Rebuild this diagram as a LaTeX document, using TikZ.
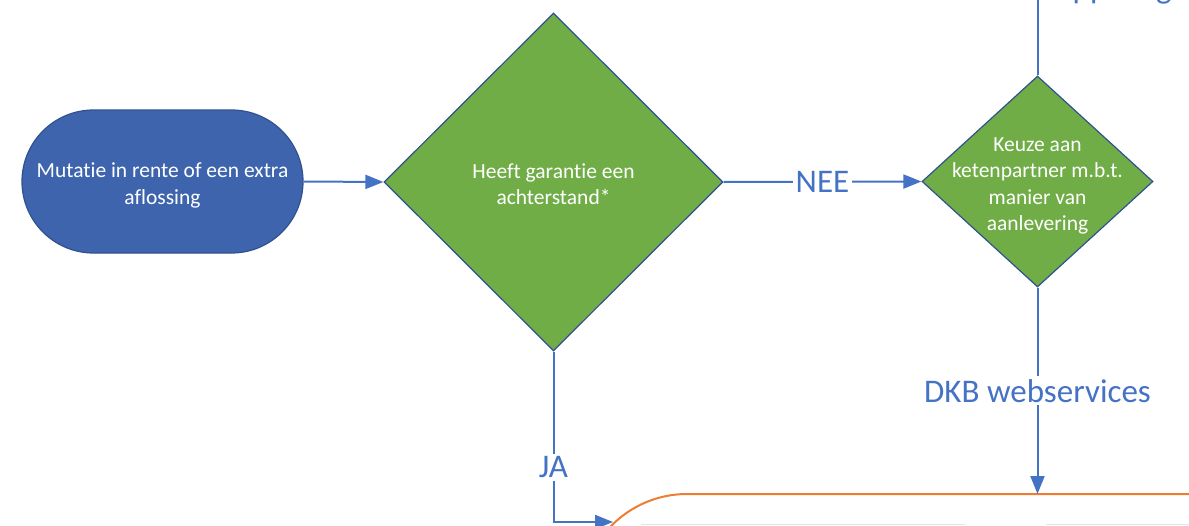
\documentclass[tikz,border=0pt]{standalone}
\usepackage{fontspec}
\setmainfont{Carlito}[Ligatures={NoCommon,NoRequired,NoContextual}]
\usetikzlibrary{shapes.geometric,arrows.meta}
\definecolor{linkblue}{HTML}{4472C4}
\definecolor{startfill}{HTML}{3E64AD}
\definecolor{edgeblue}{HTML}{2F528F}
\definecolor{dgreen}{HTML}{70AD47}
\definecolor{orangeline}{HTML}{ED7D31}
\definecolor{faintgray}{HTML}{E4E4E4}
\begin{document}
\begin{tikzpicture}[x=1pt,y=-1pt,
  boxtext/.style={text=white, font=\fontsize{21.5}{26.3}\selectfont, align=center, inner sep=0pt},
  startnode/.style={draw=edgeblue, line width=1.2pt, fill=startfill, rectangle,
     rounded corners=71.5pt, minimum width=281pt, minimum height=143pt, inner sep=0pt},
  decision/.style={draw=edgeblue, line width=1.2pt, fill=dgreen, diamond, inner sep=0pt},
  connline/.style={draw=linkblue, line width=2pt},
  connarrow/.style={connline, -{Triangle[length=18pt,width=14pt]}},
  lbl/.style={fill=white, text=linkblue, font=\fontsize{33}{38}\selectfont, inner sep=3pt},
]
\useasboundingbox (0,0) rectangle (1189,525);
\begin{scope}
\clip (0,0) rectangle (1189,525);

% nodes
\node[startnode] (start) at (162.5,181.5) {};
\node[boxtext] (starttext) at (162.5,185.5) {Mutatie in rente of een extra\\aflossing};
\node[decision, minimum width=339pt, minimum height=338pt] (d1) at (553.5,182) {};
\node[boxtext] (d1text) at (553.5,184.5) {Heeft garantie een\\achterstand*};
\node[decision, minimum width=231pt, minimum height=211pt] (d2) at (1037.5,181.5) {};
\node[boxtext] (d2text) at (1037.5,186) {Keuze aan\\ketenpartner m.b.t.\\manier van\\aanlevering};
\node[text=linkblue, font=\fontsize{33}{38}\selectfont, anchor=base east, inner sep=0pt] (toplbl) at (1172,-2) {Koppeling};

% orange container
\draw[orangeline, line width=2pt, rounded corners=106pt] (581,720) -- (581,494) -- (1500,494);
\draw[faintgray, line width=1pt] (641,524.5) -- (965,524.5);
\draw[faintgray, line width=1pt] (1046,524.5) -- (1189,524.5);

% coordinates for free ends
\coordinate (topend) at (1037.5,-5);
\coordinate (dkbend) at (1037.5,494);
\coordinate (jaend) at (613,522);

% connectors
\draw[connarrow] (start.east) -- (d1.west);
\draw[connarrow] (d1.east) -- node[lbl] {NEE} (d2.west);
\draw[connline] (d2.north) -- (topend);
\draw[connarrow] (d2.south) -- node[lbl] {DKB webservices} (dkbend);
\draw[connarrow] (d1.south) |- node[lbl, pos=0.34] {JA} (jaend);
\end{scope}
\end{tikzpicture}
\end{document}
